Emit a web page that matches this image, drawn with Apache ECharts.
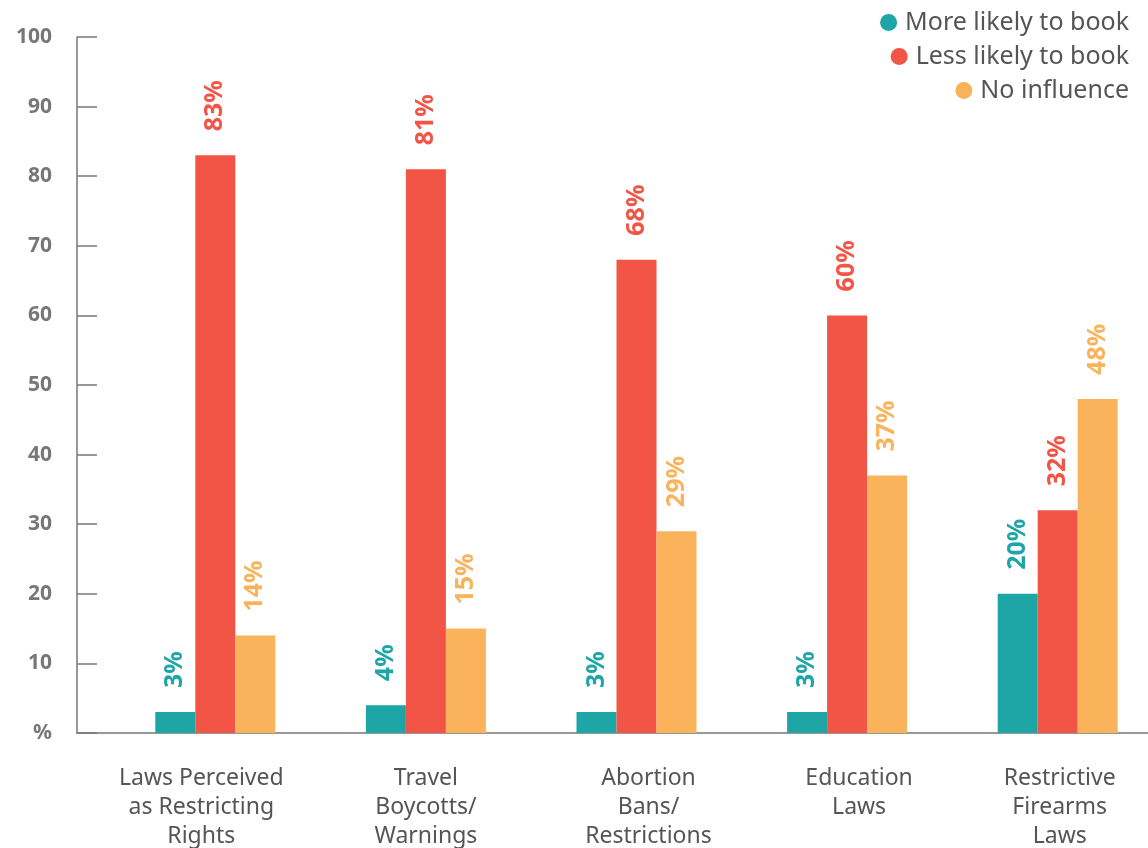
<!DOCTYPE html>
<html>
<head>
<meta charset="utf-8">
<title>Influence of state laws on booking</title>
<script src="https://cdn.jsdelivr.net/npm/echarts@6/dist/echarts.min.js"></script>
<style>
  html, body { margin: 0; padding: 0; background: #fff; }
  #chart { width: 1148px; height: 848px; }
</style>
</head>
<body>
<div id="chart"></div>
<script>
// categories along the x axis
const categories = [
  'Laws Perceived\nas Restricting\nRights',
  'Travel\nBoycotts/\nWarnings',
  'Abortion\nBans/\nRestrictions',
  'Education\nLaws',
  'Restrictive\nFirearms\nLaws'
]
// series values (percent)
const moreLikely = [3, 4, 3, 3, 20]
const lessLikely = [83, 81, 68, 60, 32]
const noInfluence = [14, 15, 29, 37, 48]
// y axis ticks
const yTicks = [0, 10, 20, 30, 40, 50, 60, 70, 80, 90, 100]

// small horizontal nudges of the category labels (px), as in the original layout
const labelShift = [-14, 0, 12, 12, 2]

const colors = {
  more: '#1ea5a6',
  less: '#f25445',
  none: '#fbb35b'
}
const font = '"Noto Sans", "Open Sans", sans-serif'

function barSeries(name, data, color) {
  return {
    name: name,
    type: 'bar',
    data: data,
    barWidth: 40,
    barGap: '0%',
    itemStyle: { color: color },
    label: {
      show: true,
      position: 'top',
      rotate: 90,
      align: 'left',
      verticalAlign: 'middle',
      distance: 24,
      formatter: p => p.value + '%',
      color: color,
      fontFamily: font,
      fontWeight: 'bold',
      fontSize: 25
    }
  }
}

function legendItem(name, top) {
  return {
    data: [name],
    right: 14,
    top: top,
    icon: 'circle',
    itemWidth: 17,
    itemHeight: 17,
    itemGap: 0,
    textStyle: { color: '#555', fontFamily: font, fontSize: 25, padding: [0, 0, 0, 3] },
    selectedMode: false
  }
}

// rich styles used to nudge each category label sideways
const rich = {}
labelShift.forEach((s, i) => {
  rich['c' + i] = {
    color: '#555',
    fontFamily: font,
    fontSize: 23,
    lineHeight: 29,
    padding: s >= 0 ? [0, 0, 0, 2 * s] : [0, -2 * s, 0, 0]
  }
})

const chart = echarts.init(document.getElementById('chart'))
chart.setOption({
  backgroundColor: '#fff',
  animation: false,
  color: [colors.more, colors.less, colors.none],
  legend: [
    legendItem('More likely to book', 5),
    legendItem('Less likely to book', 39),
    legendItem('No influence', 73)
  ],
  grid: [
    // bars
    { left: 110, width: 1053, top: 37, bottom: 115, outerBoundsMode: 'none', containLabel: false },
    // full-width frame for the axes
    { left: 77, right: 0, top: 37, bottom: 115, outerBoundsMode: 'none', containLabel: false }
  ],
  xAxis: [
    {
      gridIndex: 0,
      type: 'category',
      data: categories,
      axisLine: { show: false },
      axisTick: { show: false },
      axisLabel: {
        interval: 0,
        margin: 31,
        color: '#555',
        fontFamily: font,
        fontSize: 23,
        lineHeight: 29,
        formatter: (v, i) => '{c' + i + '|' + v + '}',
        rich: rich
      }
    },
    {
      gridIndex: 1,
      type: 'value',
      min: 0,
      max: 1,
      axisLine: { show: true, lineStyle: { color: '#777', width: 1.5 } },
      axisTick: { show: false },
      axisLabel: { show: false },
      splitLine: { show: false }
    }
  ],
  yAxis: [
    {
      gridIndex: 0,
      type: 'value',
      min: 0,
      max: 100,
      show: false
    },
    {
      gridIndex: 1,
      type: 'value',
      min: yTicks[0],
      max: yTicks[yTicks.length - 1],
      interval: 10,
      axisLine: { show: true, lineStyle: { color: '#777', width: 1.5 } },
      axisTick: { show: true, inside: true, length: 20, lineStyle: { color: '#777', width: 1.5 } },
      splitLine: { show: false },
      axisLabel: {
        margin: 25,
        color: '#777',
        fontFamily: font,
        fontWeight: 'bold',
        fontSize: 21,
        formatter: v => (v === 0 ? '%' : v)
      }
    }
  ],
  series: [
    barSeries('More likely to book', moreLikely, colors.more),
    barSeries('Less likely to book', lessLikely, colors.less),
    barSeries('No influence', noInfluence, colors.none)
  ]
})
</script>
</body>
</html>
